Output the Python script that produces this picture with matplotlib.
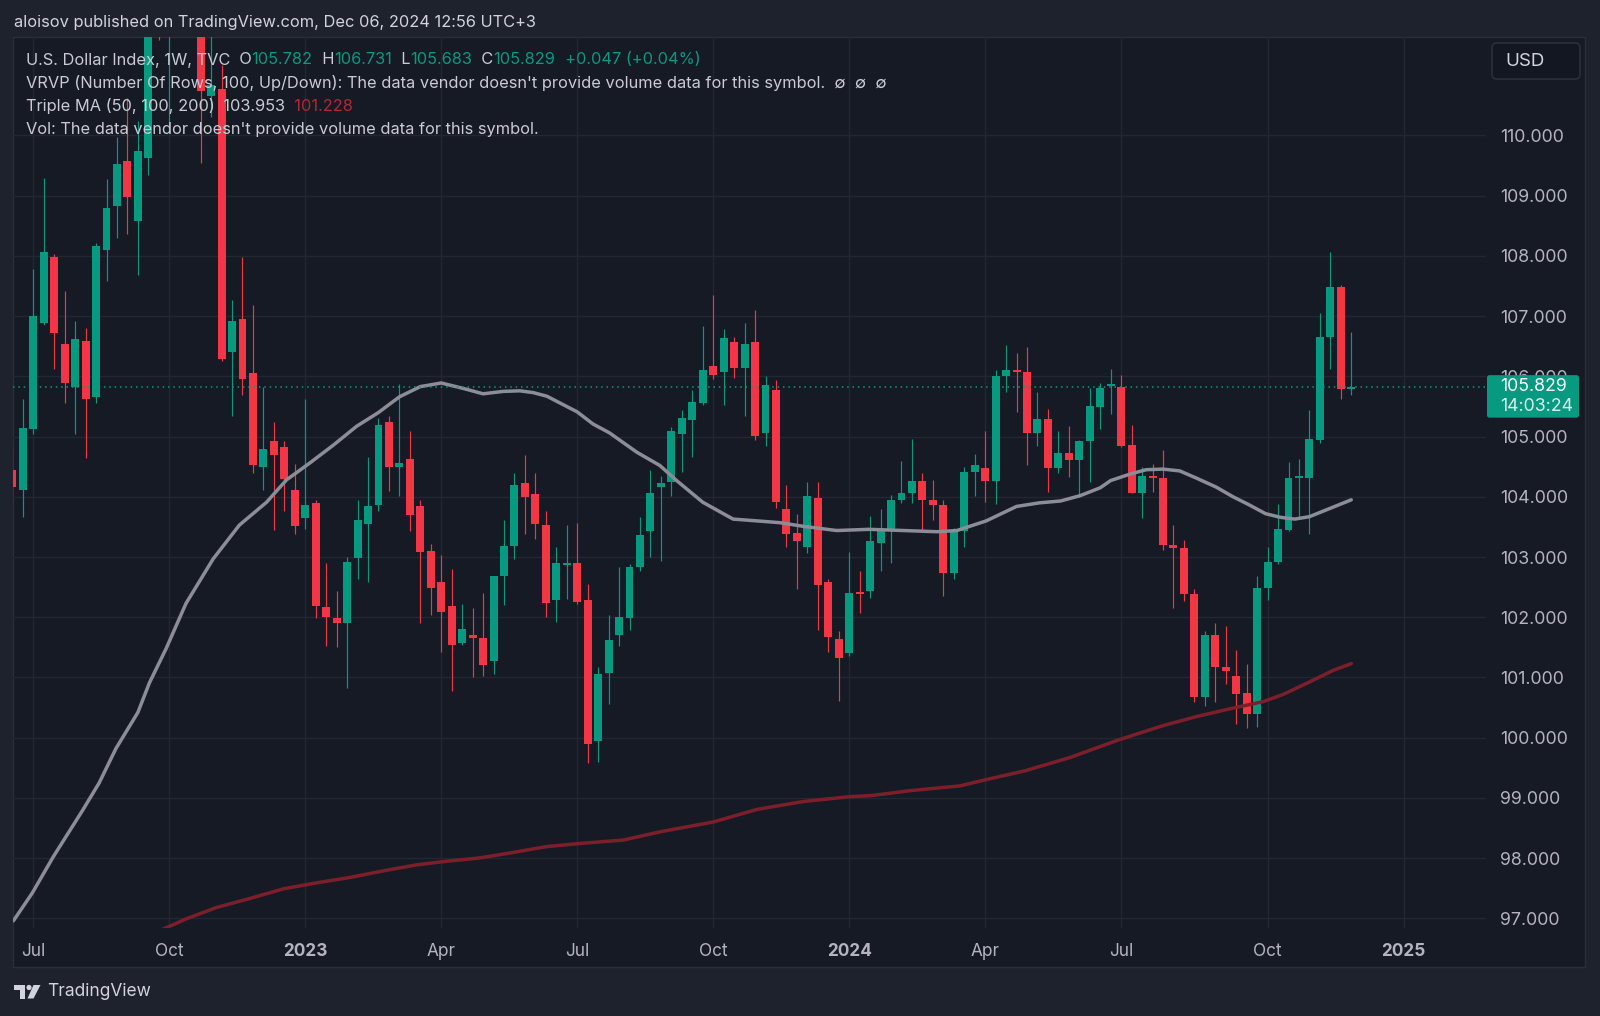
import numpy as np
import pandas as pd
import matplotlib
matplotlib.use("Agg")
import matplotlib.pyplot as plt
from matplotlib.patches import Rectangle, FancyBboxPatch, Polygon, Circle

plt.rcParams['font.family'] = ['Inter', 'DejaVu Sans']

# TVC:DXY weekly candles, first candle is the week of 2022-06-20
first_week = "2022-06-20"

opens = [104.44, 104.11, 105.13, 106.88, 107.98, 106.54, 105.83, 106.58, 105.66, 108.09,
         108.83, 109.58, 108.58, 109.63, 113.19, 112.12, 112.75, 113.31, 112.00, 110.65,
         110.77, 106.41, 106.96, 106.06, 104.49, 104.92, 104.83, 104.11, 103.65, 103.89,
         102.17, 101.99, 101.91, 102.98, 103.55, 103.87, 105.25, 104.50, 104.62, 103.85,
         103.10, 102.58, 102.19, 101.57, 101.71, 101.66, 101.27, 102.69, 103.18, 104.23,
         104.04, 103.54, 102.28, 102.86, 102.90, 102.28, 99.94, 101.07, 101.70, 101.99,
         102.84, 103.43, 104.17, 104.24, 105.04, 105.28, 105.56, 106.17, 106.08, 106.57,
         106.14, 106.57, 105.06, 105.78, 103.80, 103.40, 103.17, 103.98, 102.58, 101.64,
         101.40, 102.42, 102.43, 103.23, 103.45, 103.94, 104.07, 104.26, 103.95, 103.87,
         102.73, 103.44, 104.41, 104.47, 104.27, 106.00, 106.11, 106.08, 105.06, 105.30,
         104.48, 104.73, 104.61, 104.93, 105.49, 105.84, 105.83, 104.86, 104.06, 104.35,
         104.32, 103.20, 103.15, 102.39, 100.67, 101.71, 101.18, 101.03, 100.74, 100.40,
         102.48, 102.91, 103.45, 104.32, 104.32, 104.95, 106.66, 107.48, 105.782]

highs = [104.80, 105.63, 107.78, 109.29, 108.03, 107.42, 106.92, 106.80, 108.21, 109.27,
         109.97, 110.62, 110.24, 113.25, 114.78, 112.92, 113.92, 113.95, 112.10, 113.15,
         111.17, 107.27, 107.99, 107.18, 105.82, 105.24, 104.92, 104.54, 105.63, 103.95,
         102.90, 102.43, 103.00, 103.95, 104.66, 105.31, 105.35, 105.88, 105.09, 103.95,
         103.22, 103.04, 102.80, 102.22, 102.16, 102.40, 102.69, 103.61, 104.40, 104.70,
         104.39, 103.76, 103.17, 103.54, 103.57, 102.56, 101.18, 102.03, 102.84, 102.89,
         103.66, 104.44, 104.34, 105.16, 105.44, 105.78, 106.84, 107.35, 106.78, 106.66,
         106.89, 107.10, 106.00, 105.94, 104.20, 103.72, 104.25, 104.25, 102.64, 101.77,
         103.09, 102.76, 103.68, 103.80, 104.03, 104.60, 104.96, 104.40, 104.28, 103.95,
         103.48, 104.49, 104.71, 105.10, 106.10, 106.52, 106.39, 106.48, 105.74, 105.45,
         105.10, 105.17, 104.95, 105.80, 105.89, 106.12, 106.03, 105.20, 104.49, 104.54,
         104.78, 103.53, 103.29, 102.47, 101.77, 101.91, 101.85, 101.46, 101.22, 102.68,
         103.17, 103.88, 104.58, 104.63, 105.44, 107.06, 108.07, 107.51, 106.731]

lows = [103.90, 103.67, 105.05, 106.85, 106.12, 105.55, 105.05, 104.64, 105.56, 107.59,
        108.29, 108.36, 107.69, 109.35, 111.58, 110.05, 112.50, 111.70, 109.54, 110.30,
        106.25, 105.34, 105.69, 104.39, 104.12, 103.45, 103.76, 103.38, 103.47, 101.99,
        101.53, 101.50, 100.82, 102.64, 102.58, 103.76, 104.09, 104.02, 103.44, 101.91,
        102.04, 101.42, 100.78, 101.54, 101.01, 101.03, 101.05, 102.20, 102.96, 103.38,
        103.30, 102.00, 101.92, 102.31, 102.22, 99.58, 99.59, 100.56, 101.53, 101.78,
        102.77, 103.00, 102.93, 104.01, 104.42, 104.66, 105.52, 105.96, 105.52, 105.98,
        105.35, 104.94, 104.85, 103.82, 103.17, 102.47, 103.06, 101.78, 101.43, 100.61,
        101.35, 102.07, 102.32, 102.76, 102.90, 103.90, 103.89, 103.43, 103.61, 102.36,
        102.64, 103.16, 104.01, 103.91, 103.88, 105.74, 105.41, 104.52, 104.85, 104.08,
        104.39, 104.33, 103.99, 104.25, 105.13, 105.37, 104.83, 104.06, 103.65, 104.08,
        103.12, 102.16, 102.27, 100.60, 100.52, 100.59, 100.89, 100.22, 100.16, 100.17,
        102.29, 102.88, 103.43, 103.67, 103.38, 104.90, 106.12, 105.62, 105.683]

closes = [104.17, 105.14, 107.00, 108.06, 106.72, 105.89, 106.62, 105.63, 108.16, 108.80,
          109.52, 108.98, 109.75, 113.19, 112.12, 112.75, 113.31, 111.95, 110.74, 110.84,
          106.29, 106.92, 105.95, 104.53, 104.80, 104.69, 104.30, 103.52, 103.87, 102.18,
          102.00, 101.91, 102.91, 103.62, 103.85, 105.20, 104.49, 104.56, 103.69, 103.09,
          102.48, 102.08, 101.54, 101.81, 101.65, 101.20, 102.68, 103.18, 104.20, 104.00,
          103.55, 102.24, 102.90, 102.90, 102.25, 99.90, 101.06, 101.63, 102.01, 102.84,
          103.37, 104.07, 104.23, 105.09, 105.31, 105.58, 106.11, 106.03, 106.64, 106.14,
          106.54, 105.01, 105.85, 103.91, 103.39, 103.26, 104.01, 102.53, 101.68, 101.32,
          102.40, 102.39, 103.27, 103.45, 103.95, 104.07, 104.26, 103.95, 103.87, 102.73,
          103.45, 104.41, 104.52, 104.27, 106.00, 106.10, 106.08, 105.06, 105.30, 104.48,
          104.73, 104.61, 104.93, 105.51, 105.81, 105.87, 104.85, 104.06, 104.35, 104.31,
          103.20, 103.15, 102.39, 100.67, 101.71, 101.18, 101.10, 100.73, 100.40, 102.48,
          102.91, 103.46, 104.32, 104.33, 104.96, 106.66, 107.48, 105.79, 105.829]

# moving averages (week index, value)
ma50_pos = [0.1, 1.9, 3.9, 6.7, 8.3, 9.9, 12.0, 13.1, 14.7, 16.6, 19.2, 21.7, 24.3, 26.2,
            28.5, 30.7, 32.9, 35.0, 37.0, 39.0, 41.0, 43.1, 45.0, 46.9, 48.5, 49.8, 51.1,
            54.0, 55.5, 57.1, 59.7, 61.9, 63.5, 66.0, 68.9, 71.2, 73.4, 75.6, 78.8, 81.9,
            85.2, 88.4, 90.3, 93.1, 96.0, 98.2, 100.2, 102.1, 104.0, 105.0, 106.9, 108.4,
            110.0, 111.6, 113.2, 115.1, 116.7, 118.2, 119.8, 121.2, 122.6, 124.0, 126.0, 128.0]
ma50_val = [96.96, 97.42, 98.02, 98.79, 99.25, 99.82, 100.42, 100.91, 101.48, 102.23, 102.97,
            103.53, 103.91, 104.28, 104.57, 104.86, 105.17, 105.40, 105.66, 105.83, 105.89,
            105.80, 105.71, 105.75, 105.76, 105.73, 105.67, 105.41, 105.21, 105.06, 104.74,
            104.52, 104.27, 103.91, 103.63, 103.60, 103.57, 103.51, 103.44, 103.46, 103.44,
            103.42, 103.44, 103.60, 103.84, 103.90, 103.93, 104.02, 104.15, 104.27, 104.38,
            104.45, 104.46, 104.43, 104.31, 104.16, 104.00, 103.87, 103.72, 103.66, 103.63,
            103.67, 103.81, 103.95]

ma100_pos = [12.5, 14.4, 16.6, 19.5, 22.7, 25.9, 29.1, 32.3, 35.5, 38.7, 41.6, 44.5, 47.4,
             51.0, 54.0, 58.4, 62.0, 67.0, 71.2, 75.6, 80.0, 82.2, 85.8, 90.6, 93.0, 96.8,
             101.1, 105.7, 110.0, 113.2, 116.4, 119.6, 121.5, 123.7, 126.3, 128.0]
ma100_val = [96.70, 96.82, 96.99, 97.18, 97.33, 97.49, 97.59, 97.68, 97.79, 97.89, 97.95,
             98.00, 98.08, 98.19, 98.24, 98.30, 98.44, 98.60, 98.81, 98.94, 99.02, 99.04,
             99.12, 99.20, 99.30, 99.45, 99.67, 99.96, 100.20, 100.35, 100.48, 100.60,
             100.72, 100.90, 101.12, 101.23]

price_ticks = list(range(97, 111))

BG_OUT = '#1e222d'
BG_PANE = '#161a25'
GRID = '#232733'
TXT = '#c9ccd4'
AXTXT = '#b2b5be'
GREEN = '#089981'
RED = '#f23645'
MA50_COL = '#8b8e97'
MA100_COL = '#7d1f2b'

W, H = 1600, 1016
fig = plt.figure(figsize=(W / 100, H / 100), dpi=100)
fig.patch.set_facecolor(BG_OUT)


def frac(x0, y0, x1, y1):
    # pixel box with top-left origin -> figure fraction rect
    return [x0 / W, 1 - y1 / H, (x1 - x0) / W, (y1 - y0) / H]


# panel background
bg = fig.add_axes([0, 0, 1, 1], zorder=0)
bg.set_xlim(0, W)
bg.set_ylim(H, 0)
bg.axis('off')
bg.add_patch(Rectangle((13, 37), 1585 - 13, 967 - 37, facecolor=BG_PANE,
                       edgecolor='#2a2e39', lw=1))

# main chart
ax = fig.add_axes(frac(13, 37.3, 1486, 928), zorder=1)
ax.set_facecolor('none')
for s in ax.spines.values():
    s.set_visible(False)

o = np.array(opens)
hi = np.array(highs)
lo = np.array(lows)
c = np.array(closes)
x = np.arange(len(o))
cols = np.where(c >= o, GREEN, RED)

ax.vlines(x, lo, hi, colors=cols, lw=0.85, zorder=3)
body_lo = np.minimum(o, c)
body_h = np.maximum(np.abs(c - o), 0.025)
ax.bar(x, body_h, bottom=body_lo, width=0.76, color=cols, lw=0, zorder=4)

ax.plot(ma50_pos, ma50_val, color=MA50_COL, lw=2.5, solid_capstyle='round',
        solid_joinstyle='round', zorder=5)
ax.plot(ma100_pos, ma100_val, color=MA100_COL, lw=2.5, solid_capstyle='round',
        solid_joinstyle='round', zorder=5)

ax.axhline(c[-1], color=GREEN, lw=1.1, ls=(0, (1, 2.5)), zorder=6)

ax.set_xlim(0.06, 140.88)
ax.set_ylim(96.84, 111.63)

# quarter ticks on first candle of the month
weeks = pd.date_range(first_week, periods=145, freq='7D')
tick_pos, tick_lab = [], []
for k, d in enumerate(weeks):
    if d.month in (1, 4, 7, 10) and d.day <= 7:
        tick_pos.append(k)
        tick_lab.append(str(d.year) if d.month == 1 else d.strftime('%b'))
ax.set_xticks(tick_pos, tick_lab)
for lab in ax.get_xticklabels():
    if lab.get_text().isdigit():
        lab.set_fontweight('bold')

ax.set_yticks(price_ticks, [f'{p:.3f}' for p in price_ticks])
ax.yaxis.tick_right()
ax.tick_params(axis='y', length=0, pad=10, labelsize=12.8, labelcolor=AXTXT)
ax.tick_params(axis='x', length=0, pad=10.5, labelsize=12.4, labelcolor=AXTXT)
ax.grid(True, color=GRID, lw=1)
ax.set_axisbelow(True)

# overlay for texts and tags
ov = fig.add_axes([0, 0, 1, 1], zorder=5)
ov.set_xlim(0, W)
ov.set_ylim(H, 0)
ov.axis('off')
ov.patch.set_alpha(0)

ov.text(14, 22.5, "aloisov published on TradingView.com, Dec 06, 2024 12:56 UTC+3",
        color='#d1d4dc', fontsize=11.8, va='center')

renderer = fig.canvas.get_renderer()


def put_row(x0, y0, parts, size=11.8):
    xx = x0
    for txt, col in parts:
        t = ov.text(xx, y0, txt, color=col, fontsize=size, va='center', ha='left')
        xx = t.get_window_extent(renderer).x1


put_row(25.5, 60, [("U.S. Dollar Index, 1W, TVC", TXT), ("  O", TXT), ("105.782", GREEN),
                   ("  H", TXT), ("106.731", GREEN), ("  L", TXT), ("105.683", GREEN),
                   ("  C", TXT), ("105.829", GREEN), ("  +0.047 (+0.04%)", GREEN)])
put_row(25.5, 83, [("VRVP (Number Of Rows, 100, Up/Down): The data vendor doesn't provide "
                    "volume data for this symbol.  \u2205  \u2205  \u2205", TXT)])
put_row(25.5, 106.5, [("Triple MA (50, 100, 200)", TXT), ("  103.953", TXT),
                      ("  101.228", '#b22833')])
put_row(25.5, 129.5, [("Vol: The data vendor doesn't provide volume data for this symbol.", TXT)])

# last price tag
disp = ax.transData.transform((0, c[-1]))
y_px = H - disp[1]
ov.add_patch(FancyBboxPatch((1487, y_px - 11.5), 92, 42.5,
                            boxstyle='round,pad=0,rounding_size=2.5',
                            fc=GREEN, ec='none', zorder=3))
ov.text(1500, y_px, f'{c[-1]:.3f}', color='white', fontsize=12.8, va='center', zorder=4)
ov.text(1500, y_px + 19.5, '14:03:24', color='white', alpha=0.85, fontsize=12.8,
        va='center', zorder=4)

# currency button
ov.add_patch(FancyBboxPatch((1492, 43), 88, 36, boxstyle='round,pad=0,rounding_size=5',
                            fc='#131722', ec='#2f333e', lw=1))
ov.text(1505, 61.5, 'USD', color='#d1d4dc', fontsize=13.5, va='center')

# footer logo
logo_col = '#d1d4dc'
ov.add_patch(Polygon([(13.5, 985), (25, 985), (25, 998.5), (19.5, 998.5), (19.5, 990),
                      (13.5, 990)], closed=True, fc=logo_col, ec='none'))
ov.add_patch(Circle((29, 987.5), 2.6, fc=logo_col, ec='none'))
ov.add_patch(Polygon([(33.5, 985), (40.5, 985), (33.5, 998.5), (27.5, 998.5)],
                     closed=True, fc=logo_col, ec='none'))
ov.text(47, 992, 'TradingView', color=logo_col, fontsize=12.5, va='center')

fig.savefig('out.png', dpi=100, facecolor=fig.get_facecolor())
